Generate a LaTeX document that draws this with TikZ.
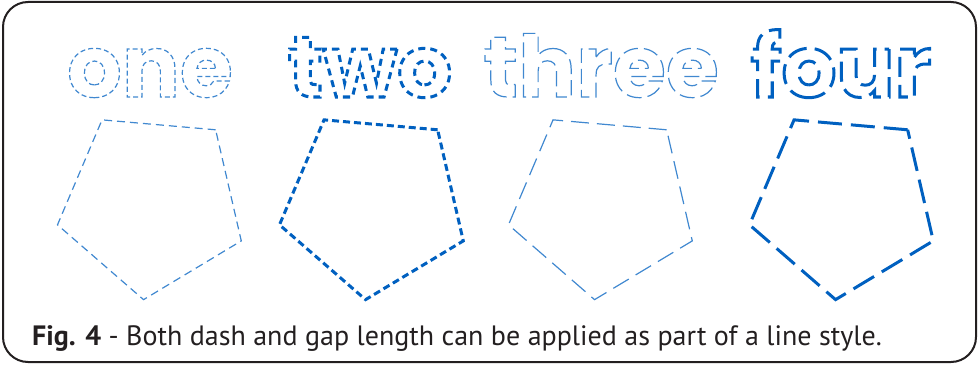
\documentclass[tikz,border=0pt]{standalone}
\usepackage{fontspec}
\usepackage{xcolor}
\usepackage{tikz}
\setmainfont{PT Sans}
\newfontfamily\wordfont{Poppins}
\definecolor{lineblue}{RGB}{0,96,192}
\definecolor{framegray}{RGB}{35,31,32}
% stroked, dashed glyphs: width, dash array, text
\newcommand{\dashword}[3]{\special{pdf:literal direct q 1 Tr #1 w [#2] 0 d}#3\special{pdf:literal direct Q}}

\begin{document}
\begin{tikzpicture}[x=1pt, y=1pt,
    word/.style={font=\fontsize{86}{86}\wordfont\bfseries, anchor=base, inner sep=0pt},
    fine/.style={draw=lineblue!75, line width=1.2pt},
    heavy/.style={draw=lineblue, line width=3pt}]
    \useasboundingbox (0,0) rectangle (979,365);
    \draw[framegray, line width=2pt, rounded corners=25pt] (3,3) rectangle (976,363);
    % the words
    \node[word, text=lineblue!75] (one) at (150,268) {\dashword{1.2}{5 3}{one}};
    \node[word, text=lineblue] (two) at (370,268) {\dashword{3}{7 5}{two}};
    \node[word, text=lineblue!75] (three) at (601,268) {\dashword{1.2}{15 6}{three}};
    \node[word, text=lineblue] (four) at (841,268) {\dashword{3}{20 8}{four}};
    % the pentagons
    \draw[fine, dash pattern=on 8pt off 5pt, shift={(152,162)}] (49:97) -- (121:97) -- (193:97) -- (265:97) -- (337:97) -- cycle;
    \draw[heavy, dash pattern=on 7pt off 4pt, shift={(374,162)}] (49:97) -- (121:97) -- (193:97) -- (265:97) -- (337:97) -- cycle;
    \draw[fine, dash pattern=on 18pt off 8pt, shift={(603,162)}] (49:97) -- (121:97) -- (193:97) -- (265:97) -- (337:97) -- cycle;
    \draw[heavy, dash pattern=on 24pt off 9pt, shift={(844,162)}] (49:97) -- (121:97) -- (193:97) -- (265:97) -- (337:97) -- cycle;
    % caption
    \node[anchor=base west, inner sep=0pt, text=framegray, font=\fontsize{28}{32}\selectfont] (caption) at (32,20)
        {\textbf{Fig. 4} - Both dash and gap length can be applied as part of a line style.};
\end{tikzpicture}
\end{document}
